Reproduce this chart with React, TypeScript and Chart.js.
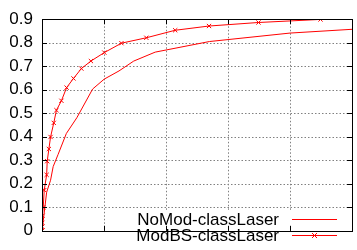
import React, { useEffect, useRef } from "react";
import { Chart, registerables } from "chart.js";

Chart.register(...registerables);

const seriesNames = ["NoMod-classLaser", "ModBS-classLaser"];

const nomodX = [0, 0.02, 0.075, 0.138, 0.18, 0.26, 0.393, 0.562, 0.817, 1.003, 1.242, 1.48, 1.826, 2.7, 4.0, 5.0];
const nomodY = [0, 0.042, 0.164, 0.215, 0.273, 0.325, 0.414, 0.481, 0.603, 0.645, 0.68, 0.722, 0.76, 0.805, 0.841, 0.857];

const modbsX = [0, 0.003, 0.004, 0.005, 0.008, 0.02, 0.036, 0.075, 0.084, 0.111, 0.138, 0.19, 0.233, 0.313, 0.397, 0.508, 0.635, 0.789, 1.005, 1.281, 1.683, 2.148, 2.694, 3.492, 4.492, 5.5];
const modbsY = [0, 0.002, 0.017, 0.034, 0.064, 0.1, 0.173, 0.238, 0.296, 0.348, 0.399, 0.459, 0.513, 0.553, 0.609, 0.648, 0.69, 0.722, 0.758, 0.798, 0.821, 0.853, 0.871, 0.886, 0.899, 0.904];

const xTicks = [0, 1, 2, 3, 4, 5];
const yTickLabels = ["0", "0.1", "0.2", "0.3", "0.4", "0.5", "0.6", "0.7", "0.8", "0.9"];

const FONT = "Liberation Sans, Arial, sans-serif";

const gridPlugin = {
  id: "dottedGrid",
  beforeDatasetsDraw(chart: any) {
    const { ctx, chartArea } = chart;
    const { left, right, top, bottom } = chartArea;
    const xs = chart.scales.x;
    const ys = chart.scales.y;
    ctx.save();
    ctx.strokeStyle = "#808080";
    ctx.lineWidth = 1;
    ctx.setLineDash([1.5, 2]);
    ctx.beginPath();
    xTicks.forEach((v) => {
      const px = Math.round(xs.getPixelForValue(v)) + 0.5;
      ctx.moveTo(px, bottom);
      ctx.lineTo(px, top);
    });
    yTickLabels.forEach((_, i) => {
      const py = Math.round(ys.getPixelForValue(i / 10)) + 0.5;
      ctx.moveTo(left, py);
      ctx.lineTo(right, py);
    });
    ctx.stroke();
    ctx.restore();
  },
};

const framePlugin = {
  id: "frame",
  afterDraw(chart: any) {
    const { ctx, chartArea } = chart;
    const { left, right, top, bottom } = chartArea;
    const xs = chart.scales.x;
    const ys = chart.scales.y;
    ctx.save();
    // legend box
    const bx = 125, by = 210, bw = 221, bh = bottom - 211;
    ctx.fillStyle = "#fff";
    ctx.fillRect(bx, by, bw, bh);
    ctx.strokeStyle = "#000";
    ctx.lineWidth = 1;
    // inner ticks
    ctx.beginPath();
    xTicks.forEach((v) => {
      const px = Math.round(xs.getPixelForValue(v)) + 0.5;
      ctx.moveTo(px, bottom);
      ctx.lineTo(px, bottom - 5);
      ctx.moveTo(px, top);
      ctx.lineTo(px, top + 5);
    });
    yTickLabels.forEach((_, i) => {
      const py = Math.round(ys.getPixelForValue(i / 10)) + 0.5;
      ctx.moveTo(left, py);
      ctx.lineTo(left + 5, py);
      ctx.moveTo(right, py);
      ctx.lineTo(right - 5, py);
    });
    ctx.stroke();
    ctx.font = "17px " + FONT;
    ctx.fillStyle = "#000";
    ctx.textAlign = "right";
    ctx.textBaseline = "alphabetic";
    const rows = [224.7, 240.7];
    const lineYs = [219.5, 235.5];
    seriesNames.forEach((name, i) => {
      ctx.fillText(name, 279, rows[i]);
      ctx.strokeStyle = "#ff0000";
      ctx.beginPath();
      ctx.moveTo(292, lineYs[i]);
      ctx.lineTo(337, lineYs[i]);
      ctx.stroke();
    });
    const mx = 314.5, my = lineYs[1];
    ctx.beginPath();
    ctx.moveTo(mx - 2.5, my - 2.5);
    ctx.lineTo(mx + 2.5, my + 2.5);
    ctx.moveTo(mx + 2.5, my - 2.5);
    ctx.lineTo(mx - 2.5, my + 2.5);
    ctx.stroke();
    // frame
    ctx.strokeStyle = "#000";
    ctx.strokeRect(Math.round(left) + 0.5, Math.round(top) + 0.5, Math.round(right - left), Math.round(bottom - top));
    ctx.restore();
  },
};

export default function App() {
  const ref = useRef<HTMLCanvasElement | null>(null);
  useEffect(() => {
    if (!ref.current) return;
    const chart = new Chart(ref.current, {
      type: "scatter",
      data: {
        datasets: [
          {
            label: seriesNames[0],
            data: nomodX.map((x, i) => ({ x, y: nomodY[i] })),
            showLine: true,
            borderColor: "#ff0000",
            borderWidth: 1,
            pointRadius: 0,
            tension: 0,
          },
          {
            label: seriesNames[1],
            data: modbsX.map((x, i) => ({ x, y: modbsY[i] })),
            showLine: true,
            borderColor: "#ff0000",
            backgroundColor: "#ff0000",
            borderWidth: 1,
            pointStyle: "crossRot",
            pointRadius: 3,
            pointBorderWidth: 1,
            pointBorderColor: "#ff0000",
            tension: 0,
          },
        ],
      },
      options: {
        animation: false,
        responsive: false,
        maintainAspectRatio: false,
        layout: { padding: { left: 0, right: 1, top: 13, bottom: 2 } },
        plugins: { legend: { display: false }, tooltip: { enabled: false } },
        scales: {
          x: {
            type: "linear",
            min: 0,
            max: 5,
            afterFit: (s: any) => { s.height = 0; },
            ticks: { display: false, stepSize: 1 },
            grid: { display: false, drawTicks: false },
            border: { display: false },
          },
          y: {
            min: 0,
            max: 0.9,
            afterFit: (s: any) => { s.width = 42; },
            ticks: {
              stepSize: 0.1,
              padding: 9,
              color: "#000",
              font: { family: FONT, size: 17 },
              callback: (v: any) => yTickLabels[Math.round(Number(v) * 10)] ?? "",
            },
            grid: { display: false, drawTicks: false },
            border: { display: false },
          },
        },
      },
      plugins: [gridPlugin, framePlugin],
    });
    return () => chart.destroy();
  }, []);
  return (
    <div style={{ position: "fixed", left: 0, top: 0, width: 357, height: 250, background: "#fff" }}>
      <canvas ref={ref} width={357} height={250} style={{ display: "block", width: 357, height: 250 }} />
    </div>
  );
}
